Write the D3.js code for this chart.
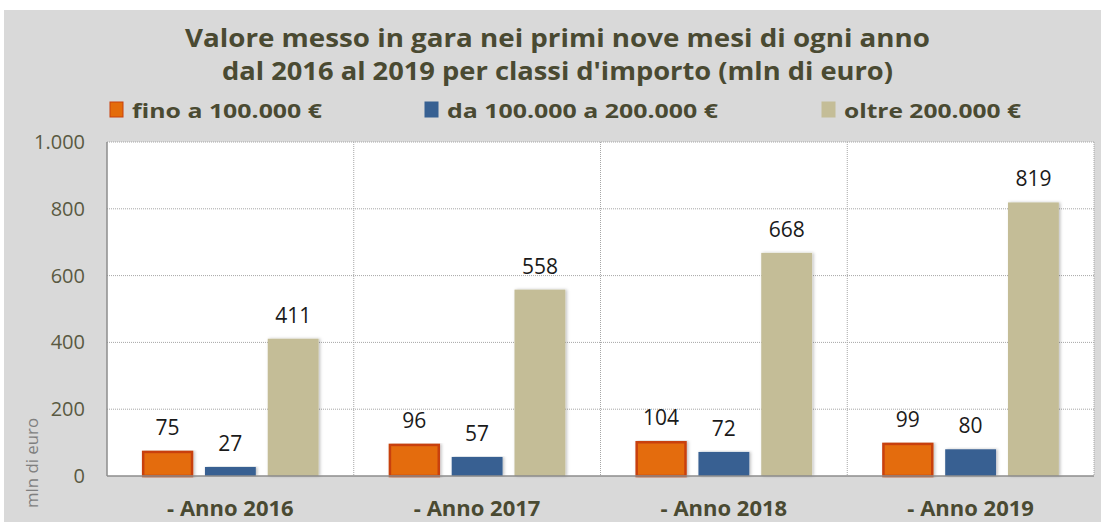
<!DOCTYPE html>
<html>
<head>
<meta charset="utf-8">
<script src="https://cdn.jsdelivr.net/npm/d3@7"></script>
<style>
  body { margin: 0; background: #ffffff; }
  text { font-family: "Open Sans", "DejaVu Sans", sans-serif; }
</style>
</head>
<body>
<div id="chart"></div>
<script>
// Data
const categories = ["- Anno 2016", "- Anno 2017", "- Anno 2018", "- Anno 2019"];
const seriesNames = ["fino a 100.000 €", "da 100.000 a 200.000 €", "oltre 200.000 €"];
const fino100 = [75, 96, 104, 99];
const da100a200 = [27, 57, 72, 80];
const oltre200 = [411, 558, 668, 819];
const yTicks = [0, 200, 400, 600, 800, 1000];
const yTickLabels = ["0", "200", "400", "600", "800", "1.000"];

const seriesValues = [fino100, da100a200, oltre200];
const colors = ["#e46c0a", "#376092", "#c4bd97"];
const strokes = ["#c8400c", "#376092", "#c4bd97"];

const width = 1101, height = 522;
const margins = { top: 142, right: 7, bottom: 46, left: 107 };
const innerW = width - margins.left - margins.right;
const innerH = height - margins.top - margins.bottom;

const svg = d3.select("#chart").append("svg")
    .attr("width", width)
    .attr("height", height);

// grey panel
svg.append("rect")
    .attr("x", 4).attr("y", 10)
    .attr("width", width - 4).attr("height", height - 10)
    .attr("fill", "#d9d9d9");

// title
const titleColor = "#4a4a32";
svg.append("text")
    .attr("x", 185).attr("y", 47)
    .attr("textLength", 745).attr("lengthAdjust", "spacingAndGlyphs")
    .attr("fill", titleColor)
    .style("font-size", "25px").style("font-weight", "bold")
    .text("Valore messo in gara nei primi nove mesi di ogni anno");
svg.append("text")
    .attr("x", 222).attr("y", 80)
    .attr("textLength", 671).attr("lengthAdjust", "spacingAndGlyphs")
    .attr("fill", titleColor)
    .style("font-size", "25px").style("font-weight", "bold")
    .text("dal 2016 al 2019 per classi d'importo (mln di euro)");

// legend
const legendX = [110, 425, 822];
const legendW = [190, 271, 177];
seriesNames.forEach((name, i) => {
    svg.append("rect")
        .attr("x", legendX[i]).attr("y", 102)
        .attr("width", 13).attr("height", 15)
        .attr("fill", colors[i])
        .attr("stroke", strokes[i]).attr("stroke-width", 1);
    svg.append("text")
        .attr("x", legendX[i] + 22).attr("y", 118)
        .attr("textLength", legendW[i]).attr("lengthAdjust", "spacingAndGlyphs")
        .attr("fill", titleColor)
        .style("font-size", "20px").style("font-weight", "bold")
        .text(name);
});

const plot = svg.append("g")
    .attr("transform", `translate(${margins.left},${margins.top})`);

plot.append("rect")
    .attr("width", innerW).attr("height", innerH)
    .attr("fill", "#ffffff");

const x0 = d3.scaleBand()
    .domain(categories)
    .range([0, innerW]);

const x1 = d3.scaleBand()
    .domain(d3.range(seriesNames.length))
    .range([0, x0.bandwidth()])
    .paddingInner(0.19)
    .paddingOuter(0.56);

const y = d3.scaleLinear()
    .domain([0, 1000])
    .range([innerH, 0]);

// horizontal grid lines
plot.append("g")
    .selectAll("line")
    .data(yTicks.slice(1))
    .join("line")
    .attr("x1", 0).attr("x2", innerW)
    .attr("y1", d => y(d)).attr("y2", d => y(d))
    .attr("stroke", "#a6a6a6")
    .attr("stroke-dasharray", "1,1");

// vertical grid lines between categories
plot.append("g")
    .selectAll("line")
    .data(categories.slice(1).concat(["end"]))
    .join("line")
    .attr("x1", (d, i) => i < categories.length - 1 ? x0(d) : innerW)
    .attr("x2", (d, i) => i < categories.length - 1 ? x0(d) : innerW)
    .attr("y1", 0).attr("y2", innerH)
    .attr("stroke", "#a6a6a6")
    .attr("stroke-dasharray", "1,1");

// bar shadow filter
const defs = svg.append("defs");
const shadow = defs.append("filter").attr("id", "shadow")
    .attr("x", "-20%").attr("y", "-5%").attr("width", "140%").attr("height", "110%");
shadow.append("feDropShadow")
    .attr("dx", 1.5).attr("dy", 0).attr("stdDeviation", 1.5)
    .attr("flood-color", "#000").attr("flood-opacity", 0.25);

// bars
const groups = plot.selectAll(".group")
    .data(categories)
    .join("g")
    .attr("class", "group")
    .attr("transform", d => `translate(${x0(d)},0)`);

seriesValues.forEach((vals, s) => {
    groups.append("rect")
        .attr("x", x1(s) + (s === 0 ? 1 : 0))
        .attr("y", (d, i) => y(vals[i]) + (s === 0 ? 1 : 0))
        .attr("width", x1.bandwidth() - (s === 0 ? 2 : 0))
        .attr("height", (d, i) => innerH - y(vals[i]) - (s === 0 ? 1 : 0))
        .attr("fill", colors[s])
        .attr("stroke", s === 0 ? strokes[s] : "none")
        .attr("stroke-width", 2.5)
        .attr("filter", "url(#shadow)");

    groups.append("text")
        .attr("x", x1(s) + x1.bandwidth() / 2)
        .attr("y", (d, i) => y(vals[i]) - 16)
        .attr("text-anchor", "middle")
        .attr("fill", "#1a1a1a")
        .style("font-size", "21px")
        .text((d, i) => vals[i]);
});

// axes lines
plot.append("line")
    .attr("x1", 0).attr("x2", innerW)
    .attr("y1", innerH).attr("y2", innerH)
    .attr("stroke", "#8c8c8c").attr("stroke-width", 1.5);
plot.append("line")
    .attr("x1", 0).attr("x2", 0)
    .attr("y1", 0).attr("y2", innerH)
    .attr("stroke", "#8c8c8c").attr("stroke-width", 1.5);

// y axis labels
const yAxis = d3.axisLeft(y)
    .tickValues(yTicks)
    .tickFormat((d, i) => yTickLabels[i])
    .tickSize(0)
    .tickPadding(22);
const yG = plot.append("g").call(yAxis);
yG.select(".domain").remove();
yG.selectAll("text")
    .attr("fill", "#595942")
    .style("font-family", "\"Open Sans\", sans-serif")
    .style("font-size", "20px");

// x axis labels
const xAxis = d3.axisBottom(x0).tickSize(0).tickPadding(24);
const xG = plot.append("g")
    .attr("transform", `translate(0,${innerH})`)
    .call(xAxis);
xG.select(".domain").remove();
xG.selectAll("text")
    .attr("fill", "#4a4a32")
    .style("font-family", "\"Open Sans\", sans-serif")
    .style("font-size", "22px")
    .style("font-weight", "bold");

// y axis title
svg.append("text")
    .attr("transform", "translate(38,463) rotate(-90)")
    .attr("text-anchor", "middle")
    .attr("textLength", 90).attr("lengthAdjust", "spacingAndGlyphs")
    .attr("fill", "#7f7f7f")
    .style("font-size", "16px")
    .text("mln di euro");
</script>
</body>
</html>
